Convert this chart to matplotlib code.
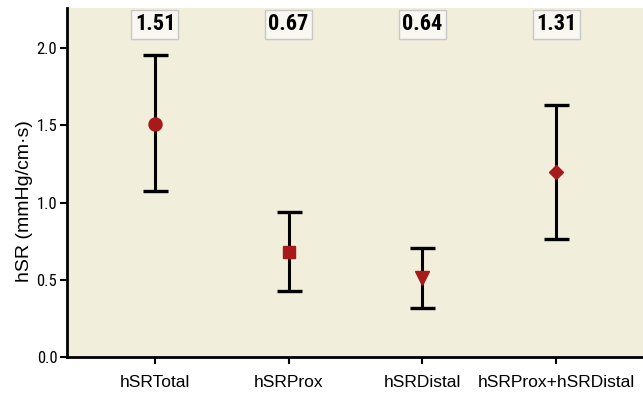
import matplotlib
matplotlib.use("Agg")
import matplotlib.pyplot as plt

categories = ["hSRTotal", "hSRProx", "hSRDistal", "hSRProx+hSRDistal"]
means = [1.508, 0.683, 0.513, 1.197]
upper = [1.955, 0.936, 0.703, 1.629]
lower = [1.072, 0.425, 0.315, 0.762]
markers = ["o", "s", "v", "D"]
marker_sizes = [9.4, 8.6, 10.5, 7.6]
box_labels = ["1.51", "0.67", "0.64", "1.31"]
yticks = [0.0, 0.5, 1.0, 1.5, 2.0]

bg = "#F1EEDC"
red = "#A81A1A"
cond = ["Roboto Condensed", "Barlow Condensed", "DejaVu Sans"]
sans = ["Liberation Sans", "DejaVu Sans"]

fig = plt.figure(figsize=(6.43, 3.95), dpi=100)
ax = fig.add_axes([67/643, 38/395, 576/643, 349/395])
ax.set_facecolor(bg)

x = list(range(len(categories)))
for i in x:
    ax.errorbar([i], [means[i]],
                yerr=[[means[i] - lower[i]], [upper[i] - means[i]]],
                fmt="none", ecolor="black", elinewidth=2.2, capsize=9, capthick=2.4, zorder=2)
    ax.plot([i], [means[i]], marker=markers[i], markersize=marker_sizes[i],
            color=red, linestyle="none", zorder=3)
    ax.text(i, 0.953, box_labels[i], transform=ax.get_xaxis_transform(),
            ha="center", va="center", fontsize=16, fontweight="bold", family=cond,
            bbox=dict(boxstyle="square,pad=0.15", facecolor="#F8F7F0", edgecolor="#C8C8C8", linewidth=1))

ax.set_xlim(-0.658, 3.65)
ax.set_ylim(0, 2.26)
ax.set_xticks(x)
ax.set_xticklabels(categories, fontsize=12.5, family=sans)
ax.set_yticks(yticks)
ax.set_yticklabels([f"{v:.1f}" for v in yticks], fontsize=12, family=cond)
ax.set_ylabel("hSR (mmHg/cm·s)", fontsize=14, family=sans)
ax.yaxis.set_label_coords(-0.059, 0.447)

for s in ["top", "right"]:
    ax.spines[s].set_visible(False)
for s in ["left", "bottom"]:
    ax.spines[s].set_linewidth(2)
ax.tick_params(axis="y", direction="out", length=5, width=1.5, pad=2)
ax.tick_params(axis="x", direction="out", length=5, width=1.5, pad=8)

fig.savefig("out.png", dpi=100)
